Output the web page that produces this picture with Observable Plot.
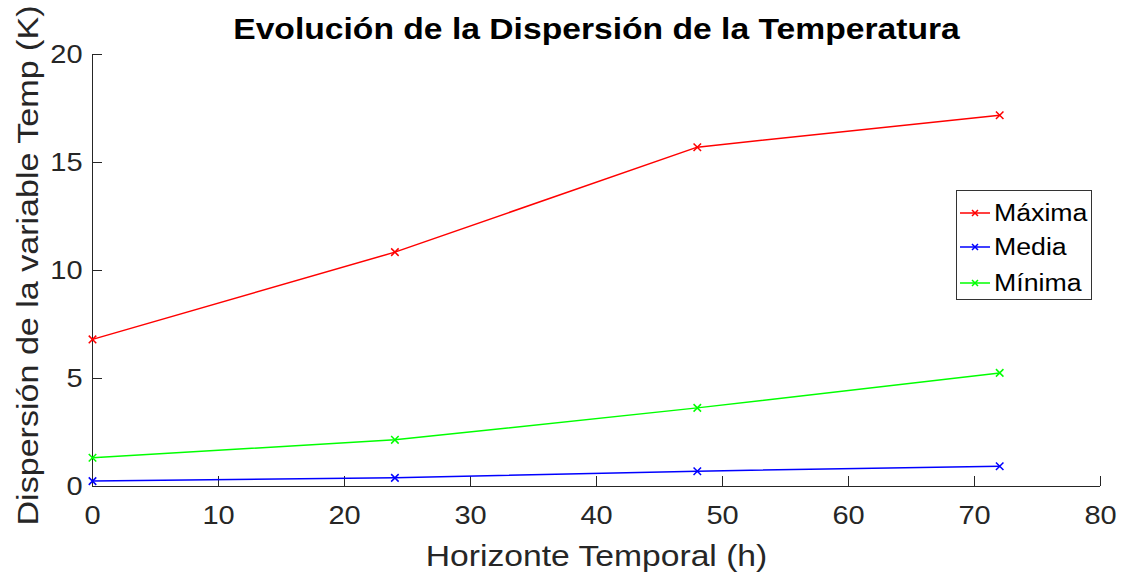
<!DOCTYPE html>
<html>
<head>
<meta charset="utf-8">
<script src="https://cdn.jsdelivr.net/npm/d3@7"></script>
<script src="https://cdn.jsdelivr.net/npm/@observablehq/plot@0.6"></script>
<style>
  body { margin: 0; background: #fff; font-family: "Liberation Sans", Arial, sans-serif; }
  #wrap { position: relative; width: 1123px; height: 573px; }
  #legend {
    position: absolute; left: 956px; top: 190px; width: 134px; height: 108px;
    border: 1px solid #333; background: #fff; box-sizing: content-box;
  }
  .entry { position: absolute; left: 0; height: 30px; display: flex; align-items: center; }
  .entry svg { margin-left: 3px; }
  .entry span { font-size: 23px; color: #000; margin-left: 4px; display: inline-block;
                transform: scaleX(1.16); transform-origin: left center; }
</style>
</head>
<body>
<div id="wrap"></div>
<script>
// Forecast horizon (hours) and temperature spread (K) per series
const horizons = [0, 24, 48, 72];
const seriesNames = ["Máxima", "Media", "Mínima"];
const maxima = [6.81, 10.85, 15.71, 17.19];
const media = [0.25, 0.40, 0.71, 0.94];
const minima = [1.33, 2.16, 3.64, 5.26];
const seriesColors = ["#ff0000", "#0000ff", "#00ff00"];
const xTicks = [0, 10, 20, 30, 40, 50, 60, 70, 80];
const yTicks = [0, 5, 10, 15, 20];
const title = "Evolución de la Dispersión de la Temperatura";
const xLabel = "Horizonte Temporal (h)";
const yLabel = "Dispersión de la variable Temp (K)";

const seriesValues = [maxima, media, minima];
const rows = seriesNames.flatMap((name, i) =>
  horizons.map((h, j) => ({serie: name, h, v: seriesValues[i][j]}))
);

const axisColor = "#262626";
const font = "Liberation Sans, Arial, Helvetica, sans-serif";
const textWiden = 1.16;      // glyphs are drawn slightly wide
const yLabelLength = 520;    // length of the rotated y title

const chart = Plot.plot({
  width: 1123,
  height: 573,
  marginLeft: 92,
  marginRight: 23,
  marginTop: 54,
  marginBottom: 87,
  style: {fontFamily: font, background: "#fff", overflow: "visible"},
  x: {domain: [0, 80]},
  y: {domain: [0, 20]},
  color: {domain: seriesNames, range: seriesColors},
  marks: [
    Plot.ruleY([0], {stroke: axisColor, strokeWidth: 1}),
    Plot.ruleX([0], {stroke: axisColor, strokeWidth: 1}),
    Plot.axisX({ticks: xTicks, tickSize: -10, text: null, stroke: axisColor, label: null}),
    Plot.axisY({ticks: yTicks, tickSize: -10, text: null, stroke: axisColor, label: null}),
    Plot.axisX({ticks: xTicks, tickSize: 0, tickPadding: 20, fontSize: 25, fill: axisColor, label: null}),
    Plot.axisY({ticks: yTicks, tickSize: 0, tickPadding: 10, fontSize: 25, fill: axisColor, label: null}),
    Plot.line(rows, {x: "h", y: "v", z: "serie", stroke: "serie", strokeWidth: 1.5}),
    Plot.dot(rows, {x: "h", y: "v", stroke: "serie", symbol: "times", r: 3.5, strokeWidth: 1.5}),
    Plot.text([title], {frameAnchor: "top", lineAnchor: "middle", dy: -25, fontSize: 29, fontWeight: "bold", fill: "#000"}),
    Plot.text([xLabel], {frameAnchor: "bottom", lineAnchor: "middle", dy: 70, fontSize: 29, fill: axisColor}),
    Plot.text([yLabel], {frameAnchor: "left", textAnchor: "middle", lineAnchor: "middle", dx: -64, dy: -5, rotate: -90, fontSize: 29, fill: axisColor})
  ]
});

const wrap = document.getElementById("wrap");
wrap.appendChild(chart);

// Widen the horizontal texts; fit the rotated y title to its length
d3.select(chart).selectAll("text").each(function() {
  const len = this.getComputedTextLength();
  const target = this.textContent === yLabel ? yLabelLength : len * textWiden;
  this.setAttribute("textLength", target);
  this.setAttribute("lengthAdjust", "spacingAndGlyphs");
});

// Legend: line + marker swatch for each series
const legend = document.createElement("div");
legend.id = "legend";
const offsets = [7, 41, 77];
seriesNames.forEach((name, i) => {
  const e = document.createElement("div");
  e.className = "entry";
  e.style.top = offsets[i] + "px";
  const c = seriesColors[i];
  e.innerHTML = `<svg width="30" height="12" viewBox="0 0 30 12">
      <line x1="0" y1="6" x2="30" y2="6" stroke="${c}" stroke-width="1.5"/>
      <path d="M12 3L18 9M18 3L12 9" stroke="${c}" stroke-width="1.5"/>
    </svg><span>${name}</span>`;
  legend.appendChild(e);
});
wrap.appendChild(legend);
</script>
</body>
</html>
